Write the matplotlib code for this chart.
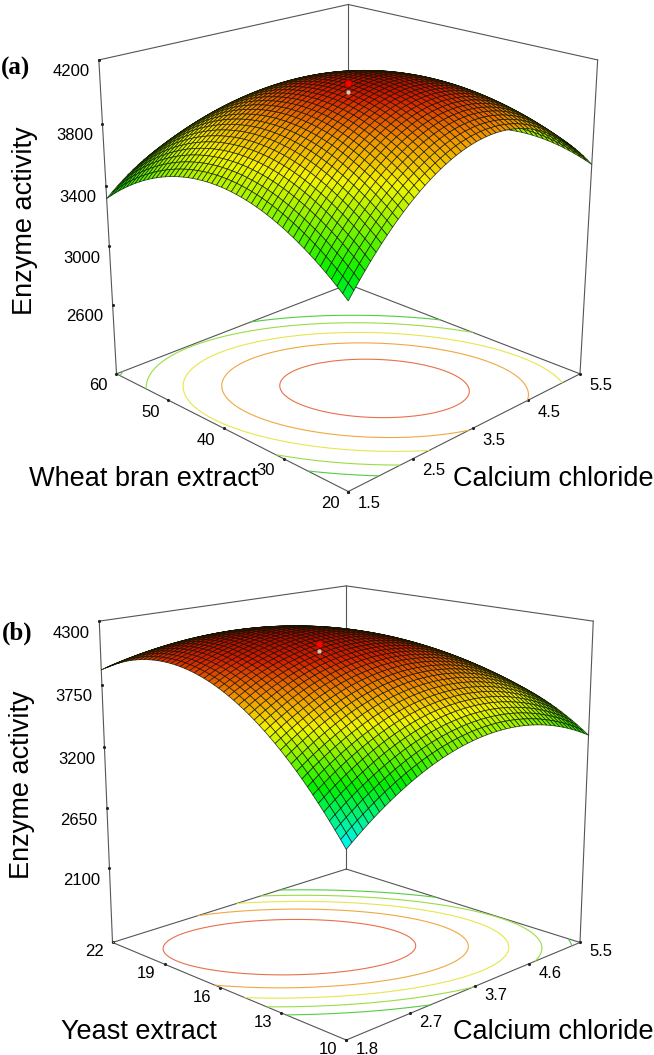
import numpy as np
import matplotlib
matplotlib.use("Agg")
import matplotlib.pyplot as plt
from matplotlib.colors import LinearSegmentedColormap, Normalize
from mpl_toolkits.mplot3d import proj3d

FIG_W, FIG_H = 654, 1055
plt.rcParams['font.family'] = ['Liberation Sans', 'DejaVu Sans']

# Panel (a): axis ranges, ticks, quadratic response-surface terms
ca_a_ticks = [1.5, 2.5, 3.5, 4.5, 5.5]
wb_a_ticks = [20, 30, 40, 50, 60]
z_a_ticks = [2600, 3000, 3400, 3800, 4200]
z_a_range = [2113, 4200]
peak_a = [3.46, 35.2, 4150]          # x, y, z at the optimum
curv_a = [2136, 1482, 816]           # x^2, y^2, xy terms of the surface
floor_curv_a = [2530, 2165, 1665]    # same terms
levels_a = [3250, 3443, 3653, 3834, 4029]
design_a = [3.5, 40]
actual_a, predicted_a = 4055, 4003
cmap_z_a = [3000, 3380, 3780, 3960, 4100, 4180]

# Panel (b)
ca_b_ticks = [1.8, 2.7, 3.7, 4.6, 5.5]
ye_b_ticks = [10, 13, 16, 19, 22]
z_b_ticks = [2100, 2650, 3200, 3750, 4300]
z_b_range = [1400, 4300]
peak_b = [3.13, 17.2, 4250]
curv_b = [1632, 2236, 1383]
floor_curv_b = [2455, 2595, 2320]
levels_b = [3268, 3466, 3658, 3856, 4054]
design_b = [3.45, 16.7]
actual_b, predicted_b = 4103, 4041
cmap_z_b = [2960, 3320, 3700, 3900, 4100, 4280]

# Colours of the surface and of the floor contours
cmap_c = ['#00f4f4', '#00f000', '#f4f400', '#f09000', '#d82000', '#a00000']
contour_colors = ['#55cc44', '#99dd44', '#e6e64d', '#efa840', '#e8704a']

fig = plt.figure(figsize=(FIG_W / 100, FIG_H / 100), dpi=100)


def px(x, y):
    return x / FIG_W, 1 - y / FIG_H


def response(gx, gy, x0, x1, y0, y1, peak, curv):
    u = (gx - peak[0]) / (x1 - x0)
    v = (gy - peak[1]) / (y1 - y0)
    return peak[2] - curv[0] * u**2 - curv[1] * v**2 - curv[2] * u * v


def panel(xt, yt, zt, zr, peak, curv, floor_curv, levels, design, actual, predicted,
          cmap_z, elev, focal, zaspect, target, floor_dy, letter, letter_xy,
          ylabel, ylabel_xy, xlabel_xy, zlabel_xy):
    norm = Normalize(cmap_z[0], cmap_z[-1])
    cmap = LinearSegmentedColormap.from_list(
        'rsm', [(norm(v), c) for v, c in zip(cmap_z, cmap_c)])

    ax = fig.add_axes([0, 0, 1, 1], projection='3d', computed_zorder=False)
    ax.set_proj_type('persp', focal_length=focal)
    ax.view_init(elev=elev, azim=-135)
    ax.set_box_aspect((1, 1, zaspect))
    x0, x1, y0, y1 = xt[0], xt[-1], yt[0], yt[-1]
    ax.set_xlim(x0, x1, view_margin=0)
    ax.set_ylim(y0, y1, view_margin=0)
    ax.set_zlim(zr[0], zr[1], view_margin=0)
    ax.set_axis_off()
    ax.patch.set_alpha(0)

    # Fit the axes so that the floor corners land where the reference has them
    M = ax.get_proj()
    to_ax = ax.transData + ax.transAxes.inverted()
    def frac(x, y, z):
        a, b, _ = proj3d.proj_transform(x, y, z, M)
        return to_ax.transform((a, b))
    fl, fr = frac(x0, y1, zr[0]), frac(x1, y0, zr[0])
    ff, fb = frac(x0, y0, zr[0]), frac(x1, y1, zr[0])
    W = (target['right'][0] - target['left'][0]) / (fr[0] - fl[0])
    left = target['left'][0] - W * fl[0]
    tops = [target[k][1] for k in ('left', 'right', 'front', 'back')]
    fys = [f[1] for f in (fl, fr, ff, fb)]
    bottom = (FIG_H - np.mean(tops)) - W * np.mean(fys)
    ax.set_position([left / FIG_W, bottom / FIG_H, W / FIG_W, W / FIG_H])

    gx, gy = np.meshgrid(np.linspace(x0, x1, 51), np.linspace(y0, y1, 51))
    gz = response(gx, gy, x0, x1, y0, y1, peak, curv)
    fx, fy = np.meshgrid(np.linspace(x0, x1, 201), np.linspace(y0, y1, 201))
    fz = response(fx, fy, x0, x1, y0, y1, peak, floor_curv)

    line = dict(color='#555555', lw=0.8, zorder=1, clip_on=False)
    zlo, zhi = zr
    for xs, ys, zs in [
        ([x1, x1], [y1, y1], [zlo, zhi]),
        ([x0, x1], [y1, y1], [zhi, zhi]),
        ([x1, x1], [y0, y1], [zhi, zhi]),
        ([x0, x0], [y1, y1], [zlo, zhi]),
        ([x1, x1], [y0, y0], [zlo, zhi]),
        ([x0, x1], [y1, y1], [zlo, zlo]),
        ([x1, x1], [y0, y1], [zlo, zlo]),
        ([x0, x1], [y0, y0], [zlo, zlo]),
        ([x0, x0], [y0, y1], [zlo, zlo]),
    ]:
        ax.plot(xs, ys, zs, **line)

    ax.contour(fx, fy, fz, levels=levels, colors=contour_colors,
               zdir='z', offset=zlo, linewidths=0.8, zorder=2)

    cells = 0.25 * (gz[:-1, :-1] + gz[1:, :-1] + gz[:-1, 1:] + gz[1:, 1:])
    face = cmap(norm(cells))
    ax.plot_surface(gx, gy, gz, rstride=1, cstride=1, facecolors=face,
                    edgecolor=(0.05, 0.08, 0, 0.8), linewidth=0.55,
                    shade=False, antialiased=True, zorder=3)

    ax.plot([design[0]], [design[1]], [predicted], 'o', ms=3.0, mfc='#e8c4c4',
            mec='#888888', mew=0.3, zorder=4, clip_on=False)
    ax.plot([design[0]], [design[1]], [actual], 'o', ms=4.6, mfc='#ff0000',
            mec='#cc0000', mew=0.3, zorder=5, clip_on=False)

    def tick(x, y, z, text, dx, dy):
        ax.plot([x], [y], [z], '.', ms=2.5, color='#222222', zorder=1, clip_on=False)
        a, b, _ = proj3d.proj_transform(x, y, z, M)
        ax.annotate(text, (a, b), xytext=(dx * 0.72, -dy * 0.72),
                    textcoords='offset points', ha='center', va='center',
                    fontsize=12, annotation_clip=False)

    for val in zt:
        tick(x0, y1, val, f'{val}', -28, 12)
    for val in yt:
        tick(x0, val, zlo, f'{val}', -18, floor_dy)
    for val in xt:
        tick(val, y0, zlo, f'{val}', 21, floor_dy)

    fig.text(*px(*letter_xy), letter, family=['Liberation Serif'], weight='bold',
             fontsize=18, ha='center', va='center')
    fig.text(*px(*ylabel_xy), ylabel, fontsize=19.5, ha='center', va='center')
    fig.text(*px(*xlabel_xy), 'Calcium chloride', fontsize=19.5, ha='center', va='center')
    fig.text(*px(*zlabel_xy), 'Enzyme activity', fontsize=19.5, rotation=90,
             ha='center', va='center')
    return ax


panel(ca_a_ticks, wb_a_ticks, z_a_ticks, z_a_range, peak_a, curv_a, floor_curv_a, levels_a,
      design_a, actual_a, predicted_a, cmap_z_a, elev=20.5, focal=0.52, zaspect=0.985,
      target=dict(left=(116.5, 373.5), right=(580, 374), front=(348, 486), back=(348, 290)),
      floor_dy=12, letter='(a)', letter_xy=(16, 68), ylabel='Wheat bran extract',
      ylabel_xy=(144, 479), xlabel_xy=(553, 479), zlabel_xy=(25, 221))

panel(ca_b_ticks, ye_b_ticks, z_b_ticks, z_b_range, peak_b, curv_b, floor_curv_b, levels_b,
      design_b, actual_b, predicted_b, cmap_z_b, elev=15.3, focal=0.52, zaspect=0.98,
      target=dict(left=(112.5, 943), right=(580, 943), front=(347, 1035), back=(347, 873)),
      floor_dy=9.5, letter='(b)', letter_xy=(17, 633), ylabel='Yeast extract',
      ylabel_xy=(139, 1032), xlabel_xy=(553, 1032), zlabel_xy=(22, 785))

fig.savefig('out.png', dpi=100)
